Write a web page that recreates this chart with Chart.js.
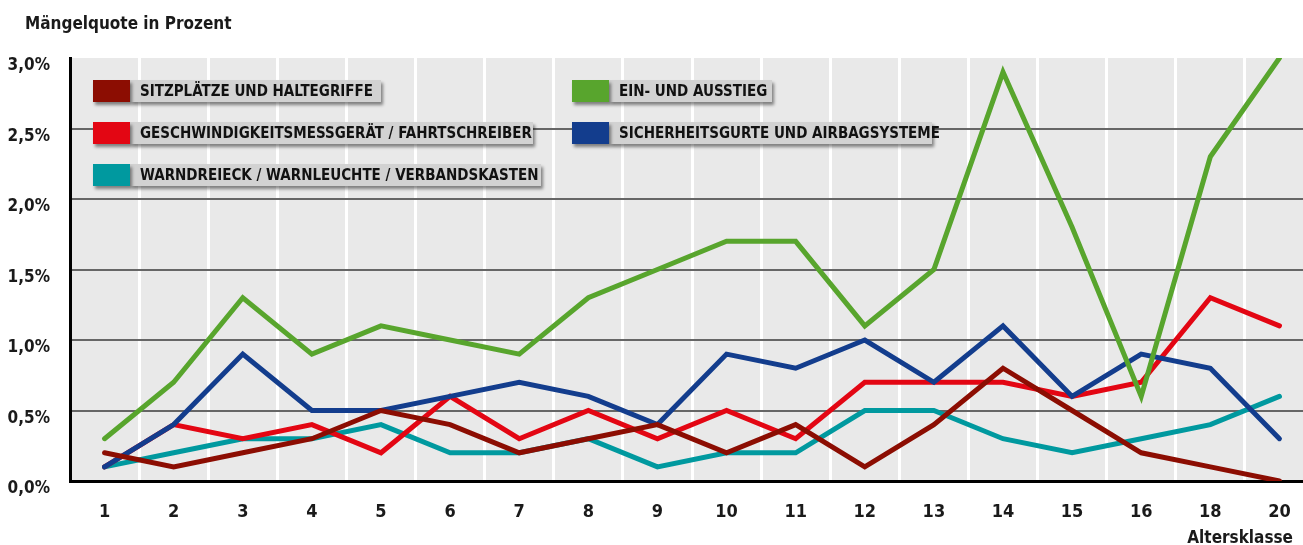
<!DOCTYPE html>
<html>
<head>
<meta charset="utf-8">
<script src="https://cdn.jsdelivr.net/npm/chart.js@4/dist/chart.umd.min.js"></script>
<style>
  html, body { margin: 0; padding: 0; background: #fff; overflow: hidden; }
  .wrap { position: relative; width: 1314px; height: 545px; }
</style>
</head>
<body>
<div class="wrap"><canvas id="chart"></canvas></div>
<script>
// Altersklassen und Mängelquoten (%)
const categories = ['1', '2', '3', '4', '5', '6', '7', '8', '9', '10', '11', '12', '13', '14', '15', '16', '18', '20'];
const sitzplaetze = [0.2, 0.1, 0.2, 0.3, 0.5, 0.4, 0.2, 0.3, 0.4, 0.2, 0.4, 0.1, 0.4, 0.8, 0.5, 0.2, 0.1, 0.0];
const geschwindigkeit = [0.1, 0.4, 0.3, 0.4, 0.2, 0.6, 0.3, 0.5, 0.3, 0.5, 0.3, 0.7, 0.7, 0.7, 0.6, 0.7, 1.3, 1.1];
const warndreieck = [0.1, 0.2, 0.3, 0.3, 0.4, 0.2, 0.2, 0.3, 0.1, 0.2, 0.2, 0.5, 0.5, 0.3, 0.2, 0.3, 0.4, 0.6];
const einAusstieg = [0.3, 0.7, 1.3, 0.9, 1.1, 1.0, 0.9, 1.3, 1.5, 1.7, 1.7, 1.1, 1.5, 2.9, 1.8, 0.6, 2.3, 3.0];
const sicherheitsgurte = [0.1, 0.4, 0.9, 0.5, 0.5, 0.6, 0.7, 0.6, 0.4, 0.9, 0.8, 1.0, 0.7, 1.1, 0.6, 0.9, 0.8, 0.3];
const yTickLabels = ['0,0%', '0,5%', '1,0%', '1,5%', '2,0%', '2,5%', '3,0%'];

const FONT = '"DejaVu Sans Condensed", "Liberation Sans", sans-serif';

const series = [
  { label: 'SITZPLÄTZE UND HALTEGRIFFE', data: sitzplaetze, color: '#8c0d02', order: 1, lx: 93, ly: 80, lw: 288 },
  { label: 'GESCHWINDIGKEITSMESSGERÄT / FAHRTSCHREIBER', data: geschwindigkeit, color: '#e30613', order: 4, lx: 93, ly: 122, lw: 440 },
  { label: 'WARNDREIECK / WARNLEUCHTE / VERBANDSKASTEN', data: warndreieck, color: '#00999f', order: 5, lx: 93, ly: 164, lw: 448 },
  { label: 'EIN- UND AUSSTIEG', data: einAusstieg, color: '#58a52d', order: 2, lx: 572, ly: 80, lw: 200 },
  { label: 'SICHERHEITSGURTE UND AIRBAGSYSTEME', data: sicherheitsgurte, color: '#133d8d', order: 3, lx: 572, ly: 122, lw: 360 }
];

// Hintergrund der Zeichenfläche
const plotBg = {
  id: 'plotBg',
  beforeDraw(chart) {
    const { ctx, chartArea: a } = chart;
    ctx.save();
    ctx.fillStyle = '#e9e9e9';
    ctx.fillRect(a.left, a.top, a.right - a.left, a.bottom - a.top);
    ctx.restore();
  }
};

// Legende als Kästchen, Titel und Achsenbeschriftung
const extras = {
  id: 'extras',
  afterDraw(chart) {
    const ctx = chart.ctx;
    ctx.save();
    ctx.fillStyle = '#1a1a1a';
    ctx.font = 'bold 17px ' + FONT;
    ctx.textBaseline = 'alphabetic';
    ctx.textAlign = 'left';
    ctx.fillText('Mängelquote in Prozent', 25, 29);
    ctx.textAlign = 'right';
    ctx.fillText('Altersklasse', 1293, 543);

    series.forEach(s => {
      const h = 22;
      ctx.save();
      ctx.shadowColor = 'rgba(0,0,0,0.45)';
      ctx.shadowBlur = 3;
      ctx.shadowOffsetX = 2;
      ctx.shadowOffsetY = 3;
      ctx.fillStyle = '#d2d2d2';
      ctx.fillRect(s.lx + 37, s.ly, s.lw - 37, h);
      ctx.fillStyle = s.color;
      ctx.fillRect(s.lx, s.ly, 37, h);
      ctx.restore();
      ctx.fillStyle = '#111';
      ctx.font = 'bold 15px ' + FONT;
      ctx.textAlign = 'left';
      ctx.textBaseline = 'middle';
      ctx.fillText(s.label, s.lx + 47, s.ly + h / 2 + 1);
    });
    ctx.restore();
  }
};

new Chart(document.getElementById('chart'), {
  type: 'line',
  data: {
    labels: categories,
    datasets: series.map(s => ({
      label: s.label,
      data: s.data,
      borderColor: s.color,
      backgroundColor: s.color,
      borderWidth: 5,
      borderCapStyle: 'round',
      borderJoinStyle: 'miter',
      tension: 0,
      pointRadius: 0,
      order: s.order
    }))
  },
  options: {
    responsive: true,
    maintainAspectRatio: false,
    animation: false,
    layout: { padding: { left: 0, top: 58, right: 0, bottom: 0 } },
    plugins: {
      legend: { display: false },
      tooltip: { enabled: false }
    },
    scales: {
      x: {
        offset: true,
        grid: { display: true, offset: true, color: '#ffffff', lineWidth: 3, drawTicks: false },
        border: { display: true, color: '#000', width: 3 },
        ticks: {
          padding: 21,
          color: '#1a1a1a',
          font: { family: FONT, size: 18, weight: 'bold' }
        },
        afterFit(scale) { scale.height = 64; }
      },
      y: {
        min: 0,
        max: 3,
        grid: {
          drawTicks: false,
          lineWidth: 2,
          color: ctx => (ctx.tick && (ctx.tick.value === 0 || ctx.tick.value === 3)) ? 'rgba(0,0,0,0)' : '#666666'
        },
        border: { display: true, color: '#000', width: 3 },
        ticks: {
          stepSize: 0.5,
          padding: 20,
          labelOffset: 8,
          color: '#1a1a1a',
          font: { family: FONT, size: 17, weight: 'bold' },
          callback: (v, i) => yTickLabels[i]
        },
        afterFit(scale) { scale.width = 70; }
      }
    }
  },
  plugins: [plotBg, extras]
});
</script>
</body>
</html>
